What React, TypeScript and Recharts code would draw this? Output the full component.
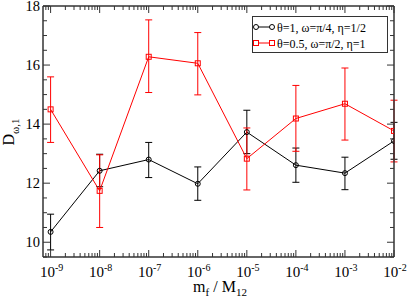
import { ErrorBar, Legend, Line, LineChart, XAxis, YAxis } from 'recharts';

const masses = [1e-9, 1e-8, 1e-7, 1e-6, 1e-5, 1e-4, 1e-3, 1e-2];

// theta=1, omega=pi/4, eta=1/2
const blackD = [10.35, 12.42, 12.8, 11.98, 13.73, 12.61, 12.34, 13.43];
const blackLow = [9.74, 11.88, 12.19, 11.42, 13.0, 12.03, 11.78, 12.81];
const blackHigh = [10.95, 12.98, 13.38, 12.55, 14.47, 13.19, 12.88, 14.06];

// theta=0.5, omega=pi/2, eta=1
const redD = [14.5, 11.74, 16.28, 16.06, 12.83, 14.19, 14.69, 13.77];
const redLow = [13.38, 10.5, 15.07, 14.99, 11.77, 13.08, 13.46, 12.72];
const redHigh = [15.6, 12.96, 17.53, 17.1, 13.87, 15.31, 15.9, 14.81];

const xDomain = [7e-10, 1e-2];
const yDomain = [9.5, 18];
const yLabels = [10, 12, 14, 16, 18];

const blackName = 'θ=1, ω=π/4, η=1/2';
const redName = 'θ=0.5, ω=π/2, η=1';

const data = masses.map((m, i) => ({
    m,
    black: blackD[i],
    blackErr: [blackD[i] - blackLow[i], blackHigh[i] - blackD[i]],
    red: redD[i],
    redErr: [redD[i] - redLow[i], redHigh[i] - redD[i]],
}));

// log ticks: decades plus 2..9 in between
const xTicks: number[] = [];
for (let e = -10; e <= -2; e++) {
    for (let k = 1; k <= 9; k++) {
        const v = k * Math.pow(10, e);
        if (v >= xDomain[0] * 1.01 && v <= xDomain[1] * 1.001) xTicks.push(v);
    }
}
const yTicks: number[] = [];
for (let v = yDomain[0]; v <= yDomain[1] + 1e-9; v += 0.5) yTicks.push(v);

const FONT = 'Liberation Serif';
const AXIS = '#333';

const isDecade = (v: number) => Math.abs(Math.log10(v) - Math.round(Math.log10(v))) < 1e-6;
const isMajorY = (v: number) => yLabels.includes(v);

function BottomTick({ x, y, payload }: any) {
    const v = payload.value;
    const major = isDecade(v);
    return (
        <g>
            <line x1={x} x2={x} y1={y} y2={y - (major ? 7 : 4)} stroke={AXIS} strokeWidth={1} />
            {major && (
                <text x={x + 1} y={y + 20} textAnchor="middle" fontFamily={FONT} fontSize={15} fill="#000">
                    10<tspan dy={-6} fontSize={10}>{Math.round(Math.log10(v))}</tspan>
                </text>
            )}
        </g>
    );
}

function TopTick({ x, y, payload }: any) {
    const major = isDecade(payload.value);
    return <line x1={x} x2={x} y1={y} y2={y + (major ? 7 : 4)} stroke={AXIS} strokeWidth={1} />;
}

function LeftTick({ x, y, payload }: any) {
    const v = payload.value;
    const major = isMajorY(v);
    return (
        <g>
            <line x1={x} x2={x + (major ? 7 : 4)} y1={y} y2={y} stroke={AXIS} strokeWidth={1} />
            {major && (
                <text x={x - 3} y={y} dy="0.35em" textAnchor="end" fontFamily={FONT} fontSize={14.5} fill="#000">
                    {v}
                </text>
            )}
        </g>
    );
}

function RightTick({ x, y, payload }: any) {
    const major = isMajorY(payload.value);
    return <line x1={x} x2={x - (major ? 7 : 4)} y1={y} y2={y} stroke={AXIS} strokeWidth={1} />;
}

function XTitle() {
    return (
        <text x={220} y={292} textAnchor="middle" fontFamily={FONT} fontSize={16} fill="#000">
            m<tspan dy={4} fontSize={11}>f</tspan>
            <tspan dy={-4}> / M</tspan>
            <tspan dy={4} fontSize={11}>12</tspan>
        </text>
    );
}

function YTitle() {
    return (
        <text x={14} y={132} transform="rotate(-90, 14, 132)" textAnchor="middle" fontFamily={FONT} fontSize={16} fill="#000">
            D<tspan dy={4.5} fontSize={11}>ω,1</tspan>
        </text>
    );
}

function CircleDot({ cx, cy }: any) {
    return <circle cx={cx} cy={cy} r={2.5} fill="none" stroke="#000" strokeWidth={1} />;
}

function SquareDot({ cx, cy }: any) {
    return <rect x={cx - 2.5} y={cy - 2.5} width={5} height={5} fill="none" stroke="#ff0000" strokeWidth={1} />;
}

function LegendBox() {
    return (
        <div style={{ border: `1px solid ${AXIS}`, background: '#fff', width: 136, height: 37, boxSizing: 'border-box' }}>
            <svg width={134} height={35} style={{ display: 'block' }}>
                <line x1={3} x2={19} y1={10} y2={10} stroke="#000" />
                <circle cx={3} cy={10} r={2.5} fill="#fff" stroke="#000" />
                <circle cx={19} cy={10} r={2.5} fill="#fff" stroke="#000" />
                <text x={24} y={14.5} fontFamily={FONT} fontSize={12} fill="#000">{blackName}</text>
                <line x1={3} x2={19} y1={26} y2={26} stroke="#ff0000" />
                <rect x={0.5} y={23.5} width={5} height={5} fill="#fff" stroke="#ff0000" />
                <rect x={16.5} y={23.5} width={5} height={5} fill="#fff" stroke="#ff0000" />
                <text x={24} y={30.5} fontFamily={FONT} fontSize={12} fill="#000">{redName}</text>
            </svg>
        </div>
    );
}

export default function App() {
    return (
        <div style={{ position: 'absolute', left: 0, top: 0, background: '#fff' }}>
            <LineChart width={407} height={302} data={data} margin={{ top: 5, right: 12, bottom: 44, left: 42 }}>
                <XAxis
                    dataKey="m"
                    type="number"
                    scale="log"
                    domain={xDomain}
                    allowDataOverflow
                    ticks={xTicks}
                    interval={0}
                    height={1}
                    tickSize={0}
                    tickMargin={0}
                    tick={<BottomTick />}
                    axisLine={{ stroke: AXIS, strokeWidth: 1.5 }}
                    label={{ content: () => <XTitle /> }}
                />
                <XAxis
                    xAxisId="top"
                    orientation="top"
                    dataKey="m"
                    type="number"
                    scale="log"
                    domain={xDomain}
                    allowDataOverflow
                    ticks={xTicks}
                    interval={0}
                    height={1}
                    tickSize={0}
                    tickMargin={0}
                    tick={<TopTick />}
                    axisLine={{ stroke: AXIS, strokeWidth: 1.5 }}
                />
                <YAxis
                    type="number"
                    domain={yDomain}
                    allowDataOverflow
                    ticks={yTicks}
                    interval={0}
                    width={1}
                    tickSize={0}
                    tickMargin={0}
                    tick={<LeftTick />}
                    axisLine={{ stroke: AXIS, strokeWidth: 1.5 }}
                    label={{ content: () => <YTitle /> }}
                />
                <YAxis
                    yAxisId="right"
                    orientation="right"
                    type="number"
                    domain={yDomain}
                    allowDataOverflow
                    ticks={yTicks}
                    interval={0}
                    width={1}
                    tickSize={0}
                    tickMargin={0}
                    tick={<RightTick />}
                    axisLine={{ stroke: AXIS, strokeWidth: 1.5 }}
                />
                <Line dataKey="black" name={blackName} stroke="#000" strokeWidth={1} dot={<CircleDot />} isAnimationActive={false}>
                    <ErrorBar dataKey="blackErr" width={3.5} stroke="#000" strokeWidth={1} direction="y" />
                </Line>
                <Line dataKey="red" name={redName} stroke="#ff0000" strokeWidth={1} dot={<SquareDot />} isAnimationActive={false}>
                    <ErrorBar dataKey="redErr" width={3.5} stroke="#ff0000" strokeWidth={1} direction="y" />
                </Line>
                <Legend
                    layout="horizontal"
                    verticalAlign="middle"
                    align="center"
                    wrapperStyle={{ left: 252, top: 16, width: 136 }}
                    content={() => <LegendBox />}
                />
            </LineChart>
        </div>
    );
}
